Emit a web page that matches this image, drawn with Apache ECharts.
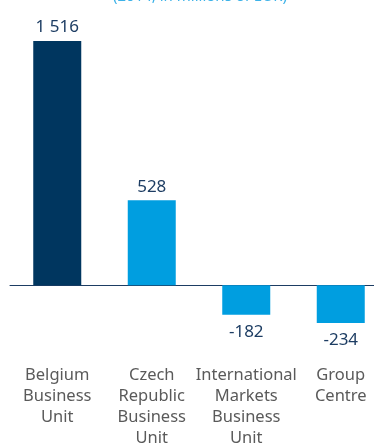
<!DOCTYPE html>
<html>
<head>
<meta charset="utf-8">
<script src="https://cdn.jsdelivr.net/npm/echarts@6/dist/echarts.min.js"></script>
<style>
  html, body { margin: 0; padding: 0; background: #fff; }
  #chart { width: 374px; height: 446px; }
</style>
</head>
<body>
<div id="chart"></div>
<script>
// Net result by business unit, 2014, in millions of EUR
const categories = [
  'Belgium\nBusiness\nUnit',
  'Czech\nRepublic\nBusiness\nUnit',
  'International\nMarkets\nBusiness\nUnit',
  'Group\nCentre'
];
const netResult = [1516, 528, -182, -234];
const subtitle = '(2014, in millions of EUR)';

const NAVY = '#00365f';
const BLUE = '#009ee0';
const FONT = 'Noto Sans';

// "1516" -> "1 516"
const fmt = v => String(v).replace(/\B(?=(\d{3})+(?!\d))/g, ' ');

const chart = echarts.init(document.getElementById('chart'), null, { renderer: 'canvas' });
chart.setOption({
  animation: false,
  title: {
    text: subtitle,
    left: 113,
    top: -11,
    padding: 0,
    textStyle: { color: '#3db2e8', fontSize: 15, fontWeight: 'normal', fontFamily: FONT }
  },
  grid: {
    left: 10, top: 27.5, width: 378, height: 322.3,
    containLabel: false,
    outerBoundsMode: 'none'
  },
  xAxis: {
    type: 'category',
    data: categories,
    axisLine: { onZero: true, lineStyle: { color: '#1d3d63', width: 1 } },
    axisTick: { show: false },
    axisLabel: {
      margin: 15,
      interval: 0,
      color: '#5a5a5a',
      fontSize: 16.5,
      lineHeight: 21,
      fontFamily: FONT,
      align: 'center'
    }
  },
  yAxis: {
    type: 'value',
    min: -400,
    max: 1600,
    show: false,
    splitLine: { show: false }
  },
  series: [{
    type: 'bar',
    data: netResult.map(v => ({
      value: v,
      // negative values carry their label below the bar
      label: v < 0 ? { position: 'bottom', distance: 9 } : undefined
    })),
    barWidth: 48,
    itemStyle: { color: p => (p.dataIndex === 0 ? NAVY : BLUE) },
    label: {
      show: true,
      position: 'top',
      distance: 5,
      color: '#1d3d63',
      fontSize: 17,
      fontFamily: FONT,
      formatter: p => fmt(p.value)
    }
  }]
});
</script>
</body>
</html>
